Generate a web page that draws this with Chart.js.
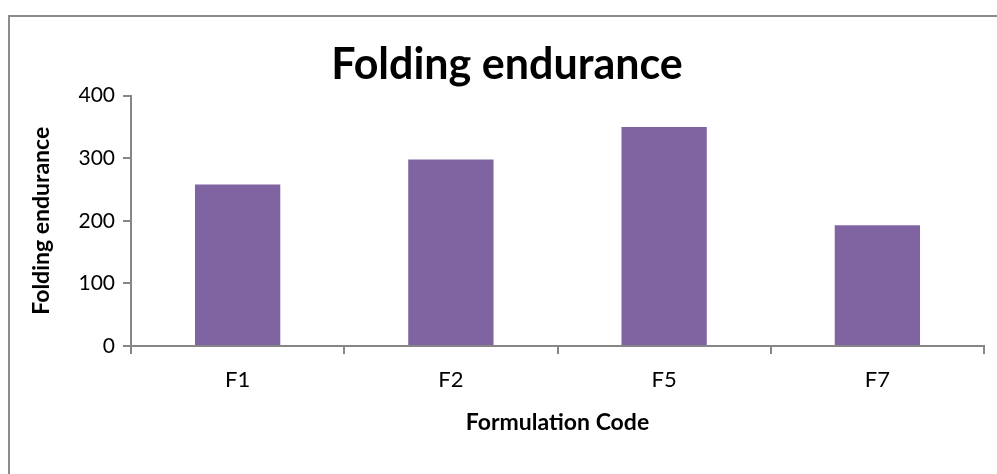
<!DOCTYPE html>
<html>
<head>
<meta charset="utf-8">
<script src="https://cdn.jsdelivr.net/npm/chart.js@4.4.0/dist/chart.umd.min.js"></script>
<style>
  body { margin: 0; background: #fff; overflow: hidden; }
  #wrap { position: relative; width: 997px; height: 474px; }
  #frame {
    position: absolute; left: 8px; top: 15px; width: 1100px; height: 600px;
    border-top: 2px solid #8c8c8c; border-left: 2px solid #8c8c8c;
  }
  #chart { position: absolute; left: 0; top: 0; }
</style>
</head>
<body>
<div id="wrap">
  <div id="frame"></div>
  <canvas id="chart" width="997" height="474"></canvas>
</div>
<script>
const CATEGORIES = ["F1", "F2", "F5", "F7"];
const FOLDING_VALUES = [258, 298, 350, 193];
const Y_TICKS = [0, 100, 200, 300, 400];

class FoldingChartController {
  constructor() {
    this.axisGrey = "#868686";
    this.barColor = "#8064A2";
    this.doChart();
  }

  doChart() {
    const ctx = document.getElementById("chart").getContext("2d");
    const axisGrey = this.axisGrey;
    window.myBar = new Chart(ctx, {
      type: "bar",
      data: {
        labels: CATEGORIES,
        datasets: [
          {
            label: "Folding endurance",
            backgroundColor: this.barColor,
            borderWidth: 0,
            data: FOLDING_VALUES,
            categoryPercentage: 1.0,
            barPercentage: 0.4,
          },
        ],
      },
      options: {
        responsive: false,
        animation: false,
        devicePixelRatio: 1,
        layout: { padding: { left: 30, right: 13, top: 0, bottom: 0 } },
        plugins: {
          legend: { display: false },
          tooltip: { enabled: false },
          title: {
            display: true,
            text: "Folding endurance",
            color: "#000",
            font: { family: "Lato", size: 43, weight: "bold", lineHeight: 1.2 },
            padding: { top: 39, bottom: 5 },
          },
        },
        scales: {
          x: {
            afterFit: (scale) => { scale.height = 128; },
            grid: {
              offset: true,
              drawOnChartArea: false,
              color: axisGrey,
              lineWidth: 2,
              tickLength: 8,
            },
            border: { color: axisGrey, width: 2 },
            ticks: {
              color: "#000",
              font: { family: "Lato", size: 22 },
              padding: 13,
            },
            title: {
              display: true,
              text: "Formulation Code",
              color: "#000",
              font: { family: "Lato", size: 23, weight: "bold", lineHeight: 1.2 },
              padding: { top: 0, bottom: 38 },
            },
          },
          y: {
            min: 0,
            max: 400,
            afterFit: (scale) => { scale.width = 101; },
            afterBuildTicks: (scale) => {
              scale.ticks = Y_TICKS.map((v) => ({ value: v }));
            },
            grid: {
              drawOnChartArea: false,
              color: axisGrey,
              lineWidth: 2,
              tickLength: 8,
            },
            border: { color: axisGrey, width: 2 },
            ticks: {
              color: "#000",
              font: { family: "Lato", size: 21 },
              padding: 8,
            },
            title: {
              display: true,
              text: "Folding endurance",
              color: "#000",
              font: { family: "Lato", size: 23, weight: "bold", lineHeight: 1.2 },
              padding: { top: -2, bottom: 0 },
            },
          },
        },
      },
    });
  }
}

new FoldingChartController();
</script>
</body>
</html>
